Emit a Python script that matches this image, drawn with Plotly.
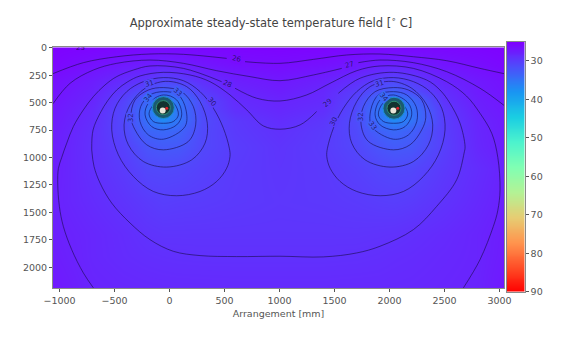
import plotly.graph_objects as go
from plotly.colors import sample_colorscale

# ---- data (mm, deg C) ----
grid_x = [-1060,-700,-400,-200,-62,80,300,600,1000,1400,1700,1900,2042,2200,2500,2800,3040]
grid_y = [0,150,300,400,480,570,660,760,900,1100,1400,1700,1900,2190]
field = [
 [25.2,25.4,25.6,25.7,25.7,25.7,25.6,25.4,25.3,25.4,25.6,25.7,25.7,25.7,25.6,25.4,25.2],
 [25.5,26.4,27.1,27.4,27.7,27.5,26.9,26.3,26.05,26.4,26.9,27.5,27.7,27.4,26.7,26.2,25.6],
 [26.3,27.4,28.7,29.4,30.8,30.2,28.9,27.6,27.0,27.7,28.9,30.0,30.8,30.0,28.0,27.1,26.5],
 [26.6,27.8,29.8,31.5,33.0,33.0,30.0,28.2,27.5,28.3,30.0,32.0,33.0,31.5,28.8,27.3,26.7],
 [26.8,28.1,30.6,33.5,36.0,35.0,31.0,28.6,28.0,28.5,30.7,34.0,36.0,34.0,29.2,27.6,26.9],
 [27.0,28.5,31.0,35.0,38.0,35.0,31.0,29.0,28.3,28.9,31.0,35.0,38.0,35.0,29.8,27.8,27.1],
 [27.2,28.7,31.0,34.5,37.0,35.0,31.2,29.7,28.7,29.5,31.2,34.5,37.0,35.0,30.0,28.1,27.3],
 [27.4,28.9,30.9,33.4,33.8,33.4,31.0,29.8,29.05,29.8,31.0,33.0,33.8,33.0,30.1,28.2,27.4],
 [27.5,29.0,30.4,32.0,32.6,32.4,30.9,30.0,29.3,29.9,30.8,31.9,32.6,32.3,30.2,28.3,27.5],
 [27.6,28.9,29.9,30.9,31.0,30.9,30.4,29.8,29.4,29.7,30.3,30.8,31.0,30.9,29.7,28.7,27.9],
 [27.8,28.6,29.3,29.8,30.1,30.0,29.9,29.7,29.5,29.6,29.8,30.0,30.1,29.9,29.2,28.4,27.7],
 [27.6,28.2,28.7,29.15,29.3,29.3,29.3,29.3,29.3,29.3,29.3,29.2,29.1,28.9,28.5,28.0,27.4],
 [27.4,28.2,28.6,28.8,28.9,28.95,29.0,29.0,29.0,29.0,28.95,28.85,28.7,28.6,28.3,28.0,27.3],
 [27.0,28.0,28.2,28.3,28.35,28.4,28.4,28.45,28.45,28.45,28.4,28.4,28.35,28.3,28.1,27.9,27.0],
]
cbar_values = list(range(25, 91))
cbar_ticks = [30, 40, 50, 60, 70, 80, 90]

c26_x = [-1059,-783,-480,-177,126,520,None,687,1005,1308,1611,1914,2217,2520,2823,3041]
c26_y = [236,136,82,57,60,97,None,127,142,106,66,57,82,118,188,236]
c27_x = [-1059,-904,-692,-480,-177,126,429,732,1005,1308,1566,None,1717,1914,2217,2520,2823,3041]
c27_y = [510,324,203,142,112,142,209,263,300,248,188,None,136,112,136,218,369,525]
c28_x = [-692,-783,-889,-965,-1001,-1016,-1010,-980,-934,-874,-783,-692,-586,-480,-328,-177,126,474,None,596,793,1005,1247,1460,1702,1914,2217,2520,2700,2823,2930,2985,3005,2985,2944,2823,2672]
c28_y = [2187,2051,1839,1627,1445,1233,1100,1000,869,718,566,445,339,263,203,166,188,309,None,369,460,485,430,324,209,166,188,309,440,597,780,1000,1294,1480,1627,1930,2187]
c29_x = [-707,-695,-631,-560,-480,-380,-268,-56,187,368,550,702,853,1005,1187,1338,None,1535,1732,2035,2338,2459,2550,2641,2687,2678,2611,2429,2217,1914,1702,1399,1005,611,278,35,-177,-359,-525,-631,-686,-707]
c29_y = [930,750,597,480,385,310,257,224,248,309,430,566,712,742,703,581,None,415,278,224,294,385,506,687,900,960,1202,1445,1657,1808,1869,1905,1899,1902,1893,1854,1748,1596,1415,1233,1081,930]
c30l_x = [-56,126,278,399,490,544,550,520,429,278,65,-147,-329,-465,-525,-495,-389,-238,-56]
c30l_y = [272,300,400,551,733,915,990,1097,1218,1309,1348,1309,1172,975,748,551,400,309,272]
c30r_x = [2036,1854,1702,1581,1490,1436,1430,1460,1551,1702,1915,2127,2309,2445,2505,2475,2369,2218,2036]
c30r_y = [272,300,400,551,733,915,990,1097,1218,1309,1348,1309,1172,975,748,551,400,309,272]
c31l_x = [-35,156,278,344,323,202,-25,-238,-374,-413,-359,-222,-35]
c31r_x = [2015,1824,1702,1636,1657,1778,2005,2218,2354,2393,2339,2202,2015]
c31_y = [306,354,491,688,869,1021,1087,1036,884,703,521,369,306]
c32l_x = [-56,111,217,238,171,-56,-207,-313,-350,-313,-192,-56]
c32r_x = [2036,1869,1763,1742,1809,2036,2187,2293,2330,2293,2172,2036]
c32_y = [363,400,536,703,854,930,884,748,633,475,385,363]
c33l_x = [-56,81,150,141,-56,-192,-268,-262,-177,-56]
c33r_x = [2036,1899,1830,1839,2036,2172,2248,2242,2157,2036]
c33_y = [400,430,566,718,833,794,672,536,430,400]
c34l_x = [-56,65,111,65,-56,-162,-222,-192,-56]
c34r_x = [2036,1915,1869,1915,2036,2142,2202,2172,2036]
c34_y = [430,475,612,703,748,718,612,506,430]
c35l_x = [-56,41,81,35,-56,-147,-186,-147,-56]
c35r_x = [2036,1939,1899,1945,2036,2127,2166,2127,2036]
c35_y = [460,506,612,672,688,672,603,521,460]

label_x = [605,1635,526,1438,384,1490,-186,1905,-350,1741,71,1847,-192,1944]
label_y = [106,157,330,500,497,672,330,330,633,633,406,712,460,451]
label_v = [26,27,28,29,30,30,31,31,32,32,33,33,34,34]
label_a = [12,-15,25,-40,50,-65,-15,-15,-90,-90,40,55,-50,50]

hot_core_x = [-56, 2041]
hot_core_y = [545, 551]
hot_white_x = [-62, 2035]
hot_white_y = [572, 572]
hot_red_x = [-25, 2075]
hot_red_y = [550, 552]

W, H = 567, 351
ax_l, ax_r, ax_t, ax_b = 53, 504, 47.3, 288.3
cb_l, cb_r, cb_t, cb_b = 506.7, 524.7, 41.7, 291.7

rainbow = [[0,"#8000ff"],[.1,"#4d4ffb"],[.2,"#1996f3"],[.3,"#1acee3"],[.4,"#4df3ce"],[.5,"#80ffb4"],
           [.6,"#b3f396"],[.7,"#e6ce74"],[.8,"#ff964f"],[.9,"#ff4f28"],[1,"#ff0000"]]
TXT = "#555555"
FONT = "DejaVu Sans"
SPINE = "#8a8a8a"

fig = go.Figure()
fig.add_trace(go.Heatmap(x=grid_x, y=grid_y, z=field, zmin=25, zmax=90, colorscale=rainbow,
                         zsmooth="best", showscale=False, hoverinfo="skip"))
fig.add_trace(go.Heatmap(x=[0, 1], y=cbar_values, z=[[v, v] for v in cbar_values], zmin=25, zmax=90,
                         colorscale=rainbow, zsmooth="best", showscale=False, xaxis="x2", yaxis="y2",
                         hoverinfo="skip"))

def line(xs, ys, color="rgba(25,12,75,0.6)", w=1.0):
    fig.add_trace(go.Scatter(x=xs, y=ys, mode="lines", line=dict(color=color, width=w, shape="spline", smoothing=1.0),
                             showlegend=False, hoverinfo="skip"))

for xs, ys in [(c26_x, c26_y), (c27_x, c27_y), (c28_x, c28_y), (c29_x, c29_y), (c30l_x, c30l_y), (c30r_x, c30r_y),
               (c31l_x, c31_y), (c31r_x, c31_y), (c32l_x, c32_y), (c32r_x, c32_y)]:
    line(xs, ys)
for xs, ys in [(c33l_x, c33_y), (c33r_x, c33_y), (c34l_x, c34_y), (c34r_x, c34_y), (c35l_x, c35_y), (c35r_x, c35_y)]:
    line(xs, ys, color="rgba(20,25,110,0.7)")

fig.add_trace(go.Scatter(x=hot_core_x, y=hot_core_y, mode="markers", hoverinfo="skip", showlegend=False,
                         marker=dict(size=22, color="#1b5a70", line=dict(color="#1c8fd0", width=1))))
fig.add_trace(go.Scatter(x=hot_core_x, y=hot_core_y, mode="markers", hoverinfo="skip", showlegend=False,
                         marker=dict(size=14, color="#12322f", line=dict(color="#2f8f70", width=1))))
fig.add_trace(go.Scatter(x=hot_white_x, y=hot_white_y, mode="markers", hoverinfo="skip", showlegend=False,
                         marker=dict(size=6, color="#e9e4d8")))
fig.add_trace(go.Scatter(x=hot_red_x, y=hot_red_y, mode="markers", hoverinfo="skip", showlegend=False,
                         marker=dict(size=3, color="#d8202a")))
fig.add_trace(go.Scatter(x=[-810], y=[6], mode="text", text=["25"], cliponaxis=True, hoverinfo="skip", showlegend=False,
                         textfont=dict(size=7, color="rgba(25,12,75,0.8)", family=FONT)))

annos = []
for x, y, v, a in zip(label_x, label_y, label_v, label_a):
    bg = sample_colorscale(rainbow, [(v - 25) / 65])[0]
    annos.append(dict(x=x, y=y, text=str(v), showarrow=False, textangle=a, bgcolor=bg, borderpad=0,
                      font=dict(size=7, color="rgba(25,12,75,0.8)", family=FONT)))

axis_common = dict(showgrid=False, zeroline=False, ticks="outside", ticklen=3, tickwidth=0.8, tickcolor=TXT,
                   showline=True, linecolor=SPINE, linewidth=1, mirror=True,
                   tickfont=dict(size=9.5, color=TXT, family=FONT))
fig.update_layout(
    width=W, height=H, margin=dict(l=0, r=0, t=0, b=0, autoexpand=False), paper_bgcolor="white", plot_bgcolor="white",
    showlegend=False,
    title=dict(text="Approximate steady-state temperature field [<sup>∘</sup> C]", x=271/W, xanchor="center",
               y=1-23/H, yanchor="middle", font=dict(size=11.5, color="#444444", family=FONT)),
    xaxis=dict(domain=[ax_l/W, ax_r/W], range=[-1059, 3041], tickvals=[-1000,-500,0,500,1000,1500,2000,2500,3000],
               ticktext=["−1000","−500","0","500","1000","1500","2000","2500","3000"], automargin=False,
               title=dict(text="Arrangement [mm]", standoff=5, font=dict(size=9.5, color=TXT, family=FONT)), **axis_common),
    yaxis=dict(domain=[1-ax_b/H, 1-ax_t/H], range=[2191, -4], tickvals=[0,250,500,750,1000,1250,1500,1750,2000],
               automargin=False, **axis_common),
    xaxis2=dict(domain=[cb_l/W, cb_r/W], range=[0, 1], showticklabels=False, ticks="", showgrid=False, zeroline=False,
                showline=True, linecolor=SPINE, linewidth=1, mirror=True, anchor="y2"),
    yaxis2=dict(domain=[1-cb_b/H, 1-cb_t/H], range=[90, 25], side="right", anchor="x2", tickvals=cbar_ticks,
                showgrid=False, zeroline=False, ticks="outside", ticklen=3, tickwidth=0.8, tickcolor=TXT,
                showline=True, linecolor=SPINE, linewidth=1, mirror=True, automargin=False,
                tickfont=dict(size=9.5, color=TXT, family=FONT)),
    annotations=annos,
)
fig.write_html("out.html", config={"displayModeBar": False}, post_script="document.body.style.margin='0';")
